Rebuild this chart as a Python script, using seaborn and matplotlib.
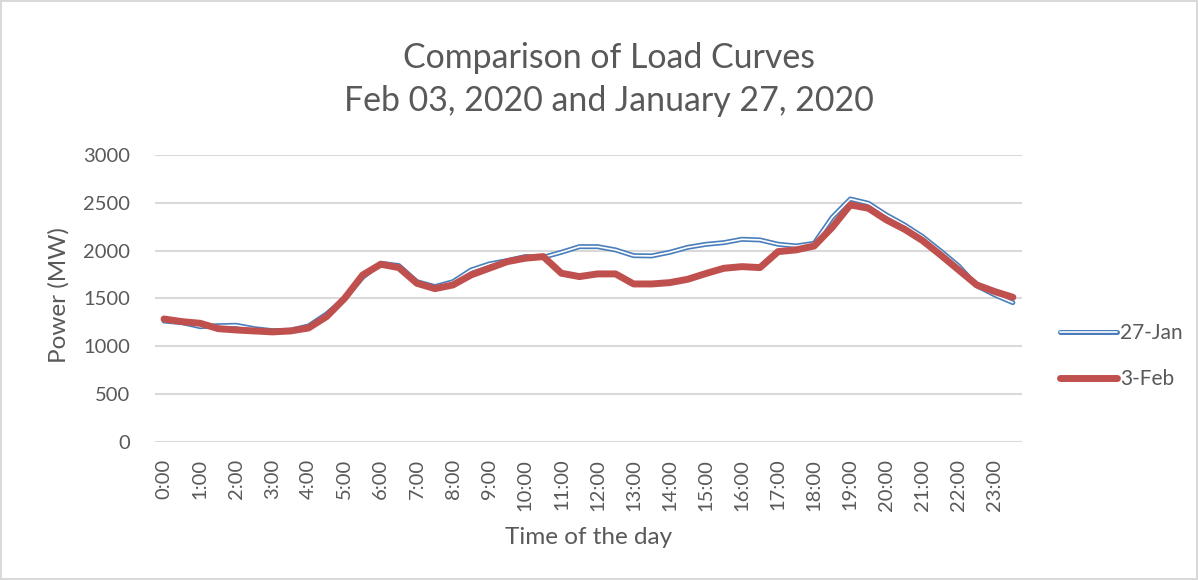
import numpy as np
import pandas as pd
import matplotlib.pyplot as plt
import matplotlib.patheffects as pe
from matplotlib.lines import Line2D
import seaborn as sns

# Half-hourly time slots 0:00 .. 23:30
slots = [f"{h}:{m:02d}" for h in range(24) for m in (0, 30)]
tick_labels = [f"{h}:00" for h in range(24)]

jan27 = [1264, 1247, 1205, 1215, 1219, 1184, 1163, 1167, 1212, 1338,
         1501, 1721, 1867, 1843, 1675, 1623, 1675, 1797, 1860, 1895,
         1937, 1930, 1982, 2041, 2041, 2007, 1947, 1944, 1982, 2034,
         2065, 2083, 2118, 2111, 2066, 2048, 2076, 2348, 2539, 2494,
         2372, 2268, 2146, 1996, 1839, 1633, 1536, 1456]
feb03 = [1285, 1257, 1240, 1184, 1170, 1160, 1150, 1160, 1191, 1310,
         1501, 1745, 1857, 1822, 1658, 1602, 1641, 1745, 1815, 1884,
         1920, 1937, 1763, 1728, 1756, 1756, 1651, 1651, 1665, 1700,
         1760, 1815, 1832, 1822, 1989, 2007, 2048, 2243, 2477, 2442,
         2320, 2223, 2104, 1954, 1797, 1641, 1571, 1512]

def main():
    blue = '#4a7ebb'
    red = '#c0504d'
    grey = '#595959'

    df = pd.DataFrame({
        'idx': list(range(len(slots))) * 2,
        'Power': jan27 + feb03,
        'Dia': ['27-Jan'] * len(slots) + ['3-Feb'] * len(slots),
    })

    sns.set_theme(style="white")
    plt.rcParams['font.family'] = ['Lato', 'DejaVu Sans']

    fig = plt.figure(figsize=(11.98, 5.8), dpi=100)
    fig.patch.set_edgecolor('#d9d9d9')
    fig.patch.set_linewidth(1.5)
    ax = fig.add_axes([0.1294, 0.238, 0.7236, 0.495])

    # Linea doble (27-Jan): azul con interior blanco
    sns.lineplot(data=df[df['Dia'] == '27-Jan'], x='idx', y='Power', ax=ax,
                 color='white', linewidth=1.2,
                 path_effects=[pe.Stroke(linewidth=3.6, foreground=blue), pe.Normal()])
    sns.lineplot(data=df[df['Dia'] == '3-Feb'], x='idx', y='Power', ax=ax,
                 color=red, linewidth=5, solid_capstyle='round')

    ax.set_xlim(-0.5, len(slots) - 0.5)
    ax.set_ylim(0, 3000)
    ax.set_yticks(np.arange(0, 3001, 500))
    ax.set_xticks(np.arange(0, len(slots), 2))
    ax.set_xticklabels(tick_labels, rotation=90, fontsize=14.5, color=grey)
    ax.tick_params(axis='y', labelsize=14.5, labelcolor=grey, pad=12)
    ax.tick_params(axis='x', pad=6)
    ax.grid(axis='y', color='#d9d9d9', linewidth=1.5)
    ax.set_axisbelow(True)
    for s in ax.spines.values():
        s.set_visible(False)

    ax.set_xlabel('Time of the day', fontsize=17.5, color=grey, labelpad=12)
    ax.set_ylabel('Power (MW)', fontsize=17.5, color=grey)
    ax.yaxis.set_label_coords(-0.098, 0.512)

    fig.text(0.508, 0.90, 'Comparison of Load Curves', ha='center', va='center',
             fontsize=24.4, color=grey)
    fig.text(0.508, 0.826, 'Feb 03, 2020 and January 27, 2020', ha='center', va='center',
             fontsize=24.4, color=grey)

    handles = [
        Line2D([], [], color='white', linewidth=1.2,
               path_effects=[pe.Stroke(linewidth=3.6, foreground=blue), pe.Normal()]),
        Line2D([], [], color=red, linewidth=5, solid_capstyle='round'),
    ]
    leg = ax.legend(handles, ['27-Jan', '3-Feb'], loc='center left',
                    bbox_to_anchor=(1.044, 0.298), frameon=False, fontsize=15,
                    borderpad=0, borderaxespad=0,
                    handlelength=2.74, handletextpad=0.15, labelspacing=1.25)
    for t in leg.get_texts():
        t.set_color(grey)

    plt.savefig('out.png', dpi=100)
    plt.close()

if __name__ == "__main__":
    main()
